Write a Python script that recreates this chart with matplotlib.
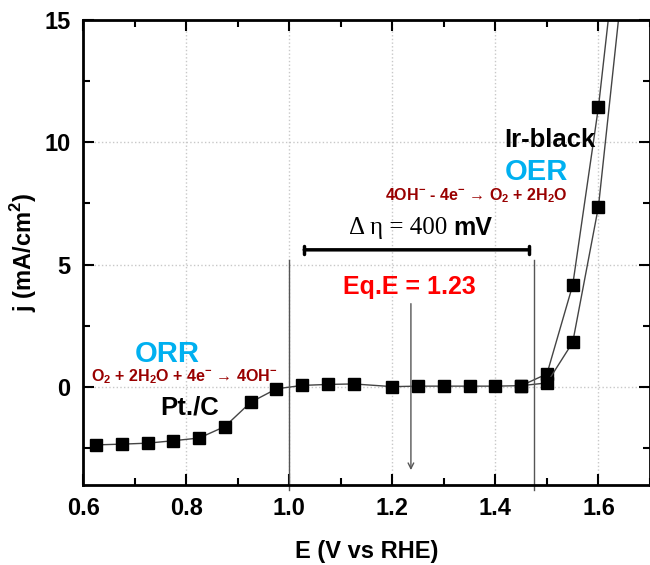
import numpy as np
import matplotlib.pyplot as plt
from matplotlib.ticker import MultipleLocator

plt.rcParams['font.family'] = ['Liberation Sans', 'DejaVu Sans']
plt.rcParams['mathtext.fontset'] = 'custom'
plt.rcParams['mathtext.rm'] = 'Liberation Sans:bold'
plt.rcParams['mathtext.bf'] = 'Liberation Sans:bold'

# Pt/C (ORR) + flat region, then Ir-black OER branch 1
E_a = [0.625, 0.675, 0.725, 0.775, 0.825, 0.875, 0.925, 0.975, 1.025, 1.075,
       1.125, 1.20, 1.25, 1.30, 1.35, 1.40, 1.45, 1.50, 1.55, 1.60, 1.65]
j_a = [-2.37, -2.34, -2.30, -2.20, -2.09, -1.62, -0.63, -0.08, 0.06, 0.10,
       0.12, 0.01, 0.03, 0.03, 0.03, 0.03, 0.05, 0.53, 4.16, 11.44, 20.8]
# Ir-black OER branch 2
E_b = [1.45, 1.50, 1.55, 1.60, 1.65]
j_b = [0.05, 0.16, 1.82, 7.37, 17.2]

fig = plt.figure(figsize=(6.5, 5.65), dpi=100)
ax = fig.add_axes([0.128, 0.142, 0.872, 0.823])

ax.plot(E_a, j_a, color='#444444', lw=1, marker='s', ms=8.5,
        mfc='black', mec='black')
ax.plot(E_b, j_b, color='#444444', lw=1, marker='s', ms=8.5,
        mfc='black', mec='black')

ax.set_xlim(0.6, 1.7)
ax.set_ylim(-4, 15)
ax.xaxis.set_minor_locator(MultipleLocator(0.1))
ax.yaxis.set_major_locator(MultipleLocator(5))
ax.yaxis.set_minor_locator(MultipleLocator(2.5))
ax.set_xticks([0.6, 0.8, 1.0, 1.2, 1.4, 1.6])
ax.set_xticklabels(['0.6', '0.8', '1.0', '1.2', '1.4', '1.6'])
ax.grid(True, which='major', linestyle=':', color='#c8c8c8', lw=1)
ax.tick_params(which='both', direction='in', top=True, right=True,
               labelsize=17, width=1.5)
ax.tick_params(which='major', length=8, pad=9)
ax.tick_params(which='minor', length=5)
for lab in ax.get_xticklabels() + ax.get_yticklabels():
    lab.set_fontweight('bold')
for s in ax.spines.values():
    s.set_linewidth(2)

ax.set_xlabel('E (V vs RHE)', fontsize=17, fontweight='bold', labelpad=14)
ax.set_ylabel(r'j (mA/cm$^{2}$)', fontsize=17, fontweight='bold', labelpad=4)

# annotation lines
for xv in [1.0, 1.475]:
    ax.plot([xv, xv], [5.2, -4.2], color='#555555', lw=1, clip_on=False)
ax.annotate('', xy=(1.029, 5.6), xytext=(1.466, 5.6),
            arrowprops=dict(arrowstyle='|-|, widthA=0.3, widthB=0.3',
                            color='black', lw=2.5, shrinkA=0, shrinkB=0))
ax.annotate('', xy=(1.236, -3.4), xytext=(1.236, 3.4),
            arrowprops=dict(arrowstyle='->', color='#555555', lw=1,
                            shrinkA=0, shrinkB=0))

red = '#990000'
cyan = '#00b0f0'
ax.text(1.318, 6.5, u'\u0394 \u03b7 = 400 ', family='Liberation Serif',
        fontsize=18, ha='right', va='center')
ax.text(1.318, 6.5, 'mV', fontsize=18, fontweight='bold', ha='left', va='center')
ax.text(1.233, 4.1, 'Eq.E = 1.23', color='red', fontsize=18, fontweight='bold',
        ha='center', va='center')
ax.text(0.763, 1.35, 'ORR', color=cyan, fontsize=21, fontweight='bold',
        ha='center', va='center')
ax.text(0.796, 0.4, u'O$_2$ + 2H$_2$O + 4e$^{-}$ \u2192 4OH$^{-}$',
        color=red, fontsize=11.5, fontweight='bold', ha='center', va='center')
ax.text(0.806, -0.86, 'Pt./C', fontsize=18.5, fontweight='bold',
        ha='center', va='center')
ax.text(1.505, 10.1, 'Ir-black', fontsize=18.5, fontweight='bold',
        ha='center', va='center')
ax.text(1.48, 8.8, 'OER', color=cyan, fontsize=21, fontweight='bold',
        ha='center', va='center')
ax.text(1.363, 7.8, u'4OH$^{-}$ - 4e$^{-}$ \u2192 O$_2$ + 2H$_2$O',
        color=red, fontsize=11.5, fontweight='bold', ha='center', va='center')

fig.savefig('out.png', dpi=100)
